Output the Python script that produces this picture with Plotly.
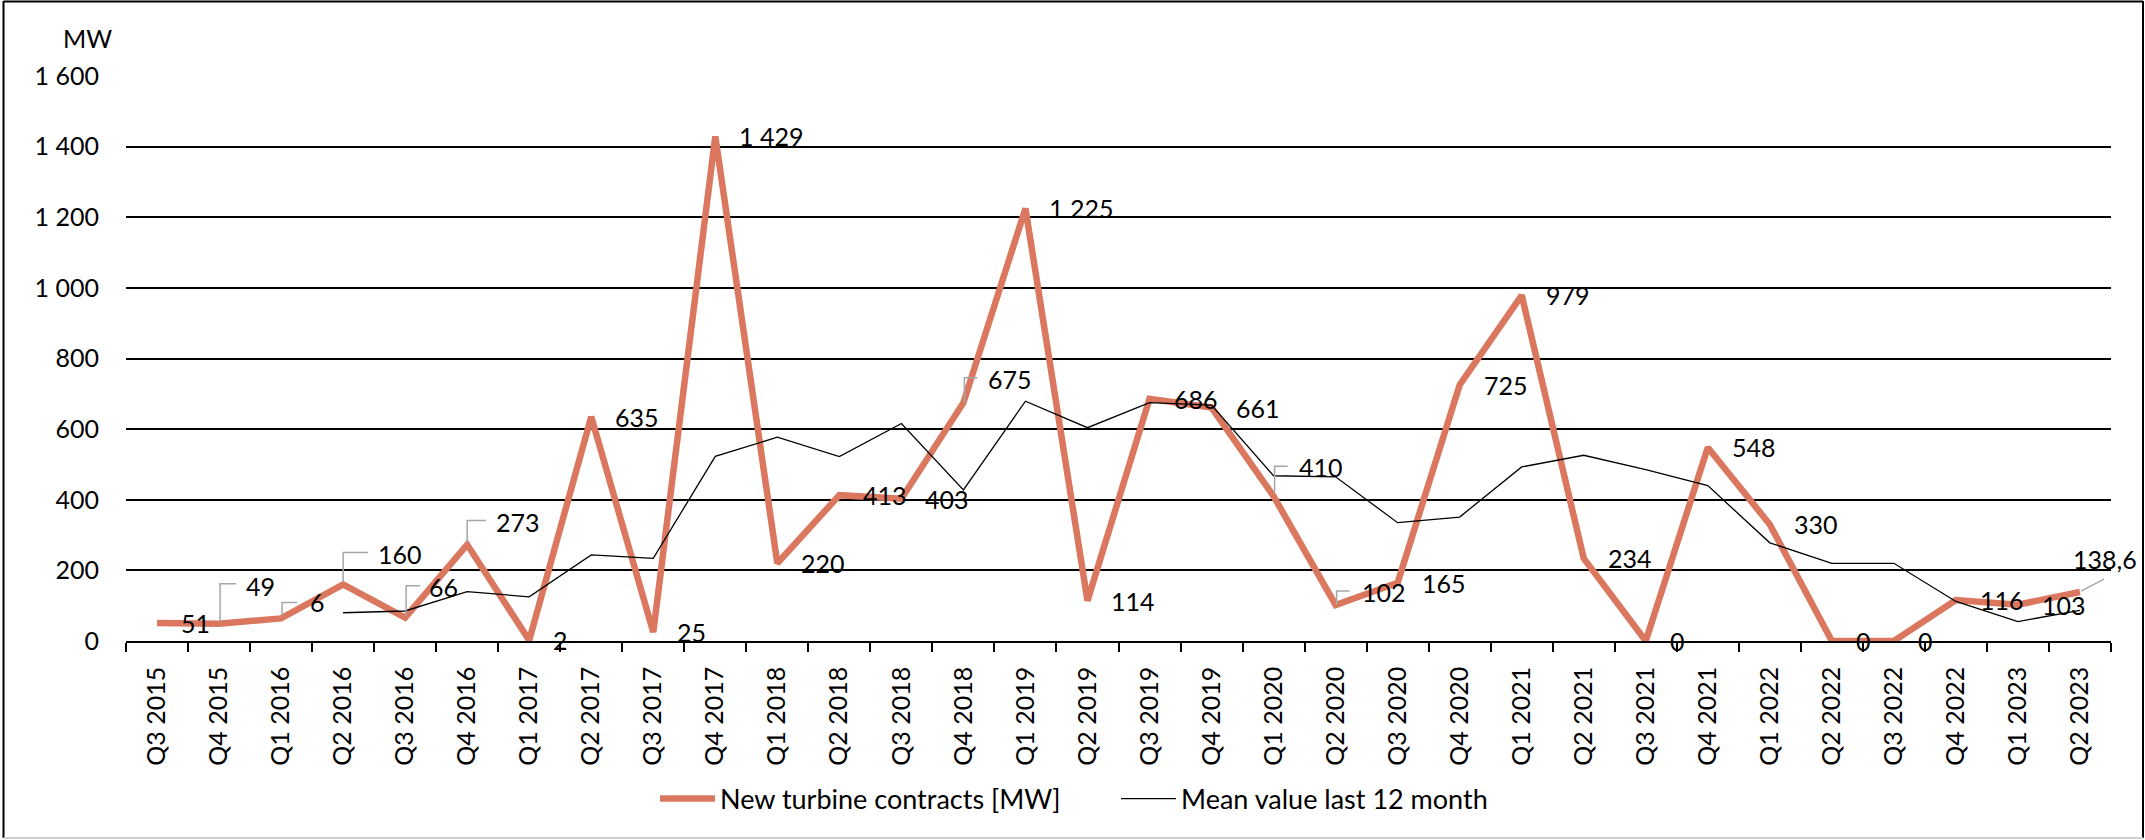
import plotly.graph_objects as go

# ---------------- data ----------------
quarters = ["Q3 2015", "Q4 2015", "Q1 2016", "Q2 2016", "Q3 2016", "Q4 2016",
            "Q1 2017", "Q2 2017", "Q3 2017", "Q4 2017", "Q1 2018", "Q2 2018",
            "Q3 2018", "Q4 2018", "Q1 2019", "Q2 2019", "Q3 2019", "Q4 2019",
            "Q1 2020", "Q2 2020", "Q3 2020", "Q4 2020", "Q1 2021", "Q2 2021",
            "Q3 2021", "Q4 2021", "Q1 2022", "Q2 2022", "Q3 2022", "Q4 2022",
            "Q1 2023", "Q2 2023"]
contracts = [51, 49, 64, 160, 66, 273, 2, 635, 25, 1429, 220, 413, 403, 675,
             1225, 114, 686, 661, 410, 102, 165, 725, 979, 234, 0, 548, 330,
             0, 0, 116, 103, 138.6]
contract_labels = ["51", "49", "6", "160", "66", "273", "2", "635", "25", "1 429",
                   "220", "413", "403", "675", "1 225", "114", "686", "661", "410",
                   "102", "165", "725", "979", "234", "0", "548", "330", "0", "0",
                   "116", "103", "138,6"]
mean_12m = [None, None, None, 80, 85, 140, 125, 244, 234, 523, 577, 522, 616,
            428, 679, 604, 675, 668, 468, 465, 335, 351, 493, 526, 485, 440,
            278, 220, 220, 112, 55, 87]
y_ticks = [0, 200, 400, 600, 800, 1000, 1200, 1400, 1600]

# ---------------- styling ----------------
W, H = 2145, 840
ML, MR, MT, MB = 126, 34, 76, 199
PW, PH = W - ML - MR, H - MT - MB
FONT = "Lato"
RED = "#DA775E"

# label pixel offsets (dx, dy up) and leader elbow paths for moved labels
label_shift = {1: (25, 38), 2: (27, 16), 3: (33, 31), 4: (22, 31), 5: (27, 23),
               13: (23, 24), 18: (23, 29), 19: (24, 13), 31: (-9, 33)}
leaders = {1: [(1, 2), (1, 40), (17, 40)],
           2: [(1, 3), (1, 16), (16, 16)],
           3: [(0, 2), (0, 32), (25, 32)],
           4: [(1, 2), (1, 32), (15, 32)],
           5: [(0, 2), (0, 24), (19, 24)],
           13: [(1, 0), (1, 25), (14, 25)],
           18: [(1, 3), (1, 30), (14, 30)],
           19: [(1, 0), (1, 14), (14, 14)],
           31: [(1, 1), (24, 13)]}

fig = go.Figure()
fig.add_trace(go.Scatter(
    x=quarters, y=contracts, mode="lines", name="New turbine contracts [MW]",
    line=dict(color=RED, width=6.5), cliponaxis=False, hoverinfo="x+y"))
fig.add_trace(go.Scatter(
    x=quarters, y=mean_12m, mode="lines", name="Mean value last 12 month",
    line=dict(color="#000000", width=1.3), cliponaxis=False, hoverinfo="x+y"))

annotations = []
shapes = []
for i, (q, v, lab) in enumerate(zip(quarters, contracts, contract_labels)):
    dx, dy = label_shift.get(i, (22, 0))
    annotations.append(dict(
        x=q, y=v, xref="x", yref="y", text=lab, showarrow=False,
        xanchor="left", yanchor="middle", xshift=dx, yshift=dy,
        font=dict(family=FONT, size=25, color="#000000")))
    if i in leaders:
        pts = leaders[i]
        path = "M" + " L".join(f"{px},{py}" for px, py in pts)
        shapes.append(dict(
            type="path", xref="x", yref="y", xsizemode="pixel", ysizemode="pixel",
            xanchor=q, yanchor=v, path=path,
            line=dict(color="#A6A6A6", width=1.5), layer="above"))

# unit label
annotations.append(dict(
    x=(114 - ML) / PW, y=(H - MB - 37.5) / PH, xref="paper", yref="paper",
    text="MW", showarrow=False, xanchor="right", yanchor="middle",
    font=dict(family=FONT, size=25, color="#000000")))


def px2x(px):
    return (px - ML) / PW


def py2y(py):
    return (H - MB - py) / PH


# outer chart border
for (x0, y0, x1, y1, col) in [(3.5, 1, 3.5, 838, "#000000"),
                              (3.5, 1.5, 2143, 1.5, "#000000"),
                              (2143, 1, 2143, 838, "#000000"),
                              (3.5, 838, 2143, 838, "#D0D0D0")]:
    shapes.append(dict(type="line", xref="paper", yref="paper",
                       x0=px2x(x0), y0=py2y(y0), x1=px2x(x1), y1=py2y(y1),
                       line=dict(color=col, width=2), layer="above"))

fig.update_layout(
    width=W, height=H,
    margin=dict(l=ML, r=MR, t=MT, b=MB, pad=0, autoexpand=False),
    paper_bgcolor="#FFFFFF", plot_bgcolor="#FFFFFF",
    separators=", ",
    font=dict(family=FONT, size=25, color="#000000"),
    showlegend=True,
    legend=dict(orientation="h", x=px2x(655), xanchor="left",
                y=py2y(799), yanchor="middle", itemwidth=55,
                entrywidth=391, entrywidthmode="pixels",
                font=dict(family=FONT, size=27, color="#000000"),
                bgcolor="rgba(0,0,0,0)"),
    annotations=annotations, shapes=shapes,
    xaxis=dict(type="category", categoryorder="array", categoryarray=quarters,
               range=[-0.5, len(quarters) - 0.5],
               showline=True, linecolor="#000000", linewidth=1.5,
               ticks="outside", ticklen=9, tickwidth=1.5, tickcolor="#000000",
               tickson="boundaries", tickangle=-90, ticklabelstandoff=14,
               showgrid=False, zeroline=False,
               tickfont=dict(family=FONT, size=25, color="#000000")),
    yaxis=dict(range=[0, 1600], tickvals=y_ticks, tickformat=",d",
               showgrid=True, gridcolor="#000000", gridwidth=1.75,
               zeroline=False, showline=False, ticks="",
               ticklabelstandoff=26,
               tickfont=dict(family=FONT, size=25, color="#000000")),
)

fig.write_html("out.html", config={"displayModeBar": False},
               post_script="document.body.style.margin='0';document.body.style.overflow='hidden';")
